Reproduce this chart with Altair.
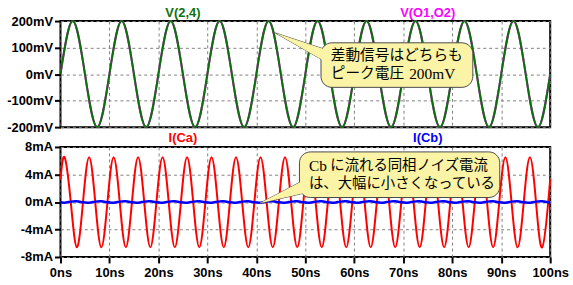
import altair as alt
import pandas as pd

# ---- top panel: differential voltages (mV) vs time (ns)
v_time = [0, 2.5, 5, 7.5, 10, 12.5, 15, 17.5, 20, 22.5, 25, 27.5, 30, 32.5, 35, 37.5,
          40, 42.5, 45, 47.5, 50, 52.5, 55, 57.5, 60, 62.5, 65, 67.5, 70, 72.5, 75, 77.5,
          80, 82.5, 85, 87.5, 90, 92.5, 95, 97.5, 100]
v_24 = [0, 200, 0, -200, 0, 200, 0, -200, 0, 200, 0, -200, 0, 200, 0, -200,
        0, 200, 0, -200, 0, 200, 0, -200, 0, 200, 0, -200, 0, 200, 0, -200,
        0, 200, 0, -200, 0, 200, 0, -200, 0]
v_o1o2 = [0, 200, 0, -200, 0, 200, 0, -200, 0, 200, 0, -200, 0, 200, 0, -200,
          0, 200, 0, -200, 0, 200, 0, -200, 0, 200, 0, -200, 0, 200, 0, -200,
          0, 200, 0, -200, 0, 200, 0, -200, 0]

# ---- bottom panel: currents (mA) vs time (ns)
i_time = [0, 0.85, 2.1, 3.35, 4.6, 5.85, 7.1, 8.35, 9.6, 10.85, 12.1, 13.35, 14.6,
          15.85, 17.1, 18.35, 19.6, 20.85, 22.1, 23.35, 24.6, 25.85, 27.1, 28.35, 29.6,
          30.85, 32.1, 33.35, 34.6, 35.85, 37.1, 38.35, 39.6, 40.85, 42.1, 43.35, 44.6,
          45.85, 47.1, 48.35, 49.6, 50.85, 52.1, 53.35, 54.6, 55.85, 57.1, 58.35, 59.6,
          60.85, 62.1, 63.35, 64.6, 65.85, 67.1, 68.35, 69.6, 70.85, 72.1, 73.35, 74.6,
          75.85, 77.1, 78.35, 79.6, 80.85, 82.1, 83.35, 84.6, 85.85, 87.1, 88.35, 89.6,
          90.85, 92.1, 93.35, 94.6, 95.85, 97.1, 98.35, 99.6, 100]
i_ca = [3.3,
        6.5, 0, -6.6, 0, 6.5, 0, -6.6, 0, 6.5, 0, -6.6, 0, 6.5, 0, -6.6, 0,
        6.5, 0, -6.6, 0, 6.5, 0, -6.6, 0, 6.5, 0, -6.6, 0, 6.5, 0, -6.6, 0,
        6.5, 0, -6.6, 0, 6.5, 0, -6.6, 0, 6.5, 0, -6.6, 0, 6.5, 0, -6.6, 0,
        6.5, 0, -6.6, 0, 6.5, 0, -6.6, 0, 6.5, 0, -6.6, 0, 6.5, 0, -6.6, 0,
        6.5, 0, -6.6, 0, 6.5, 0, -6.6, 0, 6.5, 0, -6.6, 0, 6.5, 0, -6.6, 0,
        3.3]
i_cb = [-0.05,
        -0.1, 0.05, 0.1, -0.05, -0.1, 0.05, 0.1, -0.05, -0.1, 0.05, 0.1, -0.05,
        -0.1, 0.05, 0.1, -0.05, -0.1, 0.05, 0.1, -0.05, -0.1, 0.05, 0.1, -0.05,
        -0.1, 0.05, 0.1, -0.05, -0.1, 0.05, 0.1, -0.05, -0.1, 0.05, 0.1, -0.05,
        -0.1, 0.05, 0.1, -0.05, -0.1, 0.05, 0.1, -0.05, -0.1, 0.05, 0.1, -0.05,
        -0.1, 0.05, 0.1, -0.05, -0.1, 0.05, 0.1, -0.05, -0.1, 0.05, 0.1, -0.05,
        -0.1, 0.05, 0.1, -0.05, -0.1, 0.05, 0.1, -0.05, -0.1, 0.05, 0.1, -0.05,
        -0.1, 0.05, 0.1, -0.05, -0.1, 0.05, 0.1, -0.05,
        -0.05]

x_ticks = [0, 10, 20, 30, 40, 50, 60, 70, 80, 90, 100]
v_ticks = [-200, -100, 0, 100, 200]
i_ticks = [-8, -4, 0, 4, 8]

GREEN = "#0b720b"
MAGENTA = "#ff00ff"
RED = "#ff0000"
BLUE = "#0000ff"
BALLOON = "#fbf3a6"
EDGE = "#4a4a4a"

xscale = alt.Scale(domain=[0, 100], nice=False)
vscale = alt.Scale(domain=[-200, 200], nice=False, zero=False)
iscale = alt.Scale(domain=[-8, 8], nice=False, zero=False)

AX_TOP_X = alt.Axis(values=x_ticks, labels=False, ticks=False, domain=False, grid=True, title=None)
AX_TOP_Y = alt.Axis(values=v_ticks, labelExpr="datum.value + 'mV'", domain=False, grid=True,
                    labelOverlap=False, title=None)
AX_BOT_X = alt.Axis(values=x_ticks, labelExpr="datum.value + 'ns'", domain=False, grid=True,
                    labelPadding=4, labelOverlap=False, title=None)
AX_BOT_Y = alt.Axis(values=i_ticks, labelExpr="datum.value + 'mA'", domain=False, grid=True,
                    labelOverlap=False, title=None)


def XT(field):
    return alt.X(field, scale=xscale, axis=AX_TOP_X, title=None)


def XB(field):
    return alt.X(field, scale=xscale, axis=AX_BOT_X, title=None)


def YV(field):
    return alt.Y(field, scale=vscale, axis=AX_TOP_Y, title=None)


def YI(field):
    return alt.Y(field, scale=iscale, axis=AX_BOT_Y, title=None)


# ---------------- top panel
vdf = pd.DataFrame({"t": v_time, "v24": v_24, "vo": v_o1o2})

top_mag = alt.Chart(vdf).mark_line(interpolate="natural", strokeWidth=2, color=MAGENTA).encode(
    x=XT("t:Q"), y=YV("vo:Q"))
top_grn = alt.Chart(vdf).mark_line(interpolate="natural", strokeWidth=2, color=GREEN).encode(
    x=XT("t:Q"), y=YV("v24:Q"))

tail1 = pd.DataFrame({"t": [43.9, 54.2], "ya": [155, 92], "yb": [155, 46]})
rect1 = pd.DataFrame({"x1": [53.2], "x2": [84.2], "y1": [118], "y2": [-50]})
top_tail = alt.Chart(tail1).mark_area(fill=BALLOON, stroke=EDGE, strokeWidth=1).encode(
    x=XT("t:Q"), y=YV("ya:Q"), y2="yb:Q")
top_rect = alt.Chart(rect1).mark_rect(cornerRadius=11, fill=BALLOON, stroke=EDGE, strokeWidth=1).encode(
    x=XT("x1:Q"), x2="x2:Q", y=YV("y1:Q"), y2="y2:Q")
top_tail_fill = alt.Chart(tail1).mark_area(fill=BALLOON).encode(
    x=XT("t:Q"), y=YV("ya:Q"), y2="yb:Q")

top_jp = pd.DataFrame({"t": [55.2, 55.2], "y": [69, 1.9], "txt": ["差動信号はどちらも", "ピーク電圧"]})
top_txt = alt.Chart(top_jp).mark_text(align="left", baseline="middle", font="Noto Sans CJK JP",
                                      fontSize=14.8, color="black").encode(
    x=XT("t:Q"), y=YV("y:Q"), text="txt:N")
top_num = pd.DataFrame({"t": [71.2], "y": [1.9], "txt": ["200mV"]})
top_txt2 = alt.Chart(top_num).mark_text(align="left", baseline="middle", font="Liberation Serif",
                                        fontSize=15.5, color="black").encode(
    x=XT("t:Q"), y=YV("y:Q"), text="txt:N")

top_titles_df = pd.DataFrame({"t": [25, 75], "name": ["V(2,4)", "V(O1,O2)"]})
top_titles = alt.Chart(top_titles_df).mark_text(baseline="middle", font="Liberation Sans",
                                                fontWeight="bold", fontSize=13).encode(
    x=XT("t:Q"), y=alt.value(-8), text="name:N",
    color=alt.Color("name:N", scale=alt.Scale(domain=["V(2,4)", "V(O1,O2)"], range=[GREEN, MAGENTA]),
                    legend=None))

top = alt.layer(top_mag, top_grn, top_tail, top_rect, top_tail_fill, top_txt, top_txt2,
                top_titles).properties(width=494, height=107)

# ---------------- bottom panel
idf = pd.DataFrame({"t": i_time, "ca": i_ca, "cb": i_cb})

bot_red = alt.Chart(idf).mark_line(interpolate="natural", strokeWidth=2, color=RED).encode(
    x=XB("t:Q"), y=YI("ca:Q"))
bot_blue = alt.Chart(idf).mark_line(interpolate="natural", strokeWidth=2.5, color=BLUE).encode(
    x=XB("t:Q"), y=YI("cb:Q"))

tail2 = pd.DataFrame({"t": [40.7, 49.8], "ya": [-0.2, 3.2], "yb": [-0.2, 1.3]})
rect2 = pd.DataFrame({"x1": [48.8], "x2": [89.7], "y1": [7.28], "y2": [0.65]})
bot_tail = alt.Chart(tail2).mark_area(fill=BALLOON, stroke=EDGE, strokeWidth=1).encode(
    x=XB("t:Q"), y=YI("ya:Q"), y2="yb:Q")
bot_rect = alt.Chart(rect2).mark_rect(cornerRadius=11, fill=BALLOON, stroke=EDGE, strokeWidth=1).encode(
    x=XB("x1:Q"), x2="x2:Q", y=YI("y1:Q"), y2="y2:Q")
bot_tail_fill = alt.Chart(tail2).mark_area(fill=BALLOON).encode(
    x=XB("t:Q"), y=YI("ya:Q"), y2="yb:Q")

bot_jp = pd.DataFrame({"t": [55.1, 50.75], "y": [5.16, 2.6],
                       "txt": ["に流れる同相ノイズ電流", "は、大幅に小さくなっている"]})
bot_txt = alt.Chart(bot_jp).mark_text(align="left", baseline="middle", font="Noto Sans CJK JP",
                                      fontSize=14.5, color="black").encode(
    x=XB("t:Q"), y=YI("y:Q"), text="txt:N")
bot_cb = pd.DataFrame({"t": [50.75], "y": [5.16], "txt": ["Cb"]})
bot_txt2 = alt.Chart(bot_cb).mark_text(align="left", baseline="middle", font="Liberation Serif",
                                       fontSize=15.5, color="black").encode(
    x=XB("t:Q"), y=YI("y:Q"), text="txt:N")

bot_titles_df = pd.DataFrame({"t": [25, 75], "name": ["I(Ca)", "I(Cb)"]})
bot_titles = alt.Chart(bot_titles_df).mark_text(baseline="middle", font="Liberation Sans",
                                                fontWeight="bold", fontSize=13).encode(
    x=XB("t:Q"), y=alt.value(-9), text="name:N",
    color=alt.Color("name:N", scale=alt.Scale(domain=["I(Ca)", "I(Cb)"], range=[RED, BLUE]),
                    legend=None))

bottom = alt.layer(bot_red, bot_blue, bot_tail, bot_rect, bot_tail_fill, bot_txt, bot_txt2,
                   bot_titles).properties(width=494, height=111)

chart = alt.vconcat(top, bottom, spacing=20, bounds="flush").resolve_scale(
    color="independent"
).properties(
    autosize=alt.AutoSizeParams(type="pad"),
    padding={"left": 5, "top": 5, "right": 3, "bottom": 3},
).configure_view(
    stroke="black", strokeWidth=2
).configure_axis(
    labelFont="Liberation Sans", labelFontWeight="bold", labelFontSize=13, labelColor="black",
    tickColor="black", tickWidth=2, tickSize=6, labelPadding=2,
    labelOverlap=False, labelFlush=False, labelBound=False,
    gridColor="#808080", gridDash=[3, 3], gridWidth=1, gridOpacity=1
)

chart.save("out.html", embed_options={"renderer": "svg", "actions": False})
